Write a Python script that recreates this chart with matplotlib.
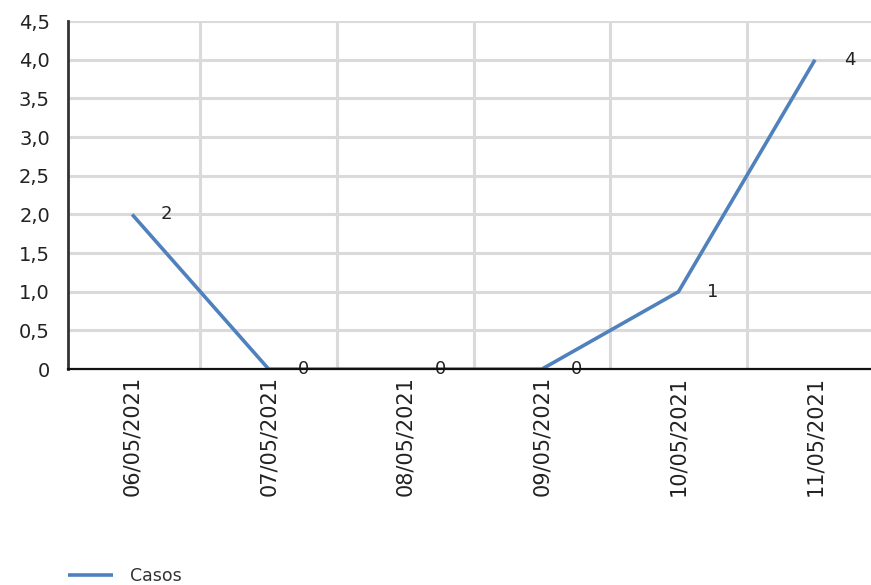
import matplotlib
matplotlib.use("Agg")
import matplotlib.pyplot as plt
from matplotlib.ticker import FixedLocator

# ── Data ─────────────────────────────────────────────────────
fechas = ["06/05/2021", "07/05/2021", "08/05/2021",
          "09/05/2021", "10/05/2021", "11/05/2021"]
casos = [2, 0, 0, 0, 1, 4]
y_ticks = [0, 0.5, 1.0, 1.5, 2.0, 2.5, 3.0, 3.5, 4.0, 4.5]
y_labels = ["0", "0,5", "1,0", "1,5", "2,0", "2,5", "3,0", "3,5", "4,0", "4,5"]

LINE_COLOR = "#4f81bd"
GRID_COLOR = "#dadada"
TEXT_COLOR = "#222222"

plt.rcParams.update({
    "font.family": "DejaVu Sans",
    "font.size": 14,
})

fig = plt.figure(figsize=(8.71, 5.85), dpi=100)
ax = fig.add_axes([0.078, 0.369, 0.922, 0.595])

x = list(range(len(fechas)))
ax.plot(x, casos, color=LINE_COLOR, linewidth=2.6, label="Casos",
        solid_capstyle="butt", zorder=3)

# value labels to the right of each point
for xi, v in zip(x, casos):
    ax.annotate(str(v), (xi, v), xytext=(25, 0), textcoords="offset points",
                ha="center", va="center", fontsize=13, color=TEXT_COLOR,
                zorder=4)

ax.set_xlim(-0.47, 5.41)
ax.set_ylim(0, 4.5)

ax.yaxis.set_major_locator(FixedLocator(y_ticks))
ax.set_yticklabels(y_labels)
ax.set_xticks(x)
ax.set_xticklabels(fechas, rotation=90, va="top", ha="center")
ax.tick_params(axis="both", length=0, colors=TEXT_COLOR, labelsize=14)
ax.tick_params(axis="x", labelsize=15)
ax.tick_params(axis="y", pad=13)
ax.tick_params(axis="x", pad=5)

# grid: horizontal at ticks, vertical between categories
for yv in y_ticks[1:]:
    ax.axhline(yv, color=GRID_COLOR, linewidth=2.2, zorder=0)
for b in [i + 0.5 for i in range(len(fechas) - 1)]:
    ax.axvline(b, color=GRID_COLOR, linewidth=2.2, zorder=0)

for side in ["top", "right"]:
    ax.spines[side].set_visible(False)
ax.spines["left"].set_color("#333333")
ax.spines["left"].set_linewidth(2)
ax.spines["bottom"].set_color("#111111")
ax.spines["bottom"].set_linewidth(1.6)
ax.spines["bottom"].set_zorder(5)

leg = fig.legend(loc="lower left", bbox_to_anchor=(0.06, -0.026),
                 frameon=False, fontsize=12.5, handlelength=2.6,
                 handletextpad=1.0)
for t in leg.get_texts():
    t.set_color("#333333")

fig.savefig("out.png", dpi=100)
